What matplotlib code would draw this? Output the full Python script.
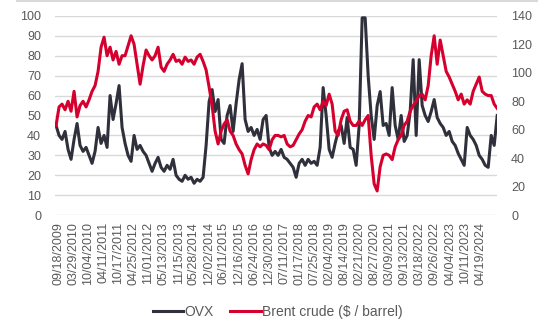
import matplotlib.pyplot as plt
import numpy as np
from matplotlib.lines import Line2D

plt.rcParams['font.family'] = ['Liberation Sans', 'DejaVu Sans']

# x tick labels (one every ~130 trading days)
date_labels = ['09/18/2009', '03/29/2010', '10/04/2010', '04/11/2011', '10/17/2011',
               '04/25/2012', '11/01/2012', '05/13/2013', '11/15/2013', '05/28/2014',
               '12/02/2014', '06/11/2015', '12/16/2015', '06/24/2016', '12/30/2016',
               '07/11/2017', '01/17/2018', '07/25/2018', '02/04/2019', '08/14/2019',
               '02/21/2020', '08/27/2020', '03/09/2021', '09/13/2021', '03/18/2022',
               '09/26/2022', '04/04/2023', '10/11/2023', '04/19/2024']

# OVX index (left axis)
ovx = [45, 40, 38, 42, 33, 28, 38, 46, 35, 32,
       34, 30, 26, 32, 44, 36, 40, 34, 60, 48,
       56, 65, 44, 36, 30, 27, 40, 33, 35, 32,
       30, 26, 22, 26, 29, 24, 22, 25, 23, 28,
       20, 18, 17, 20, 18, 19, 16, 18, 17, 19,
       35, 57, 63, 52, 58, 38, 36, 50, 55, 42,
       56, 68, 76, 48, 42, 44, 40, 43, 38, 48,
       50, 34, 30,
       32, 30, 33, 29, 28, 26, 24, 19, 26, 28,
       25, 28, 26, 27, 25, 34, 64, 50, 33, 29,
       36, 42, 45, 36, 49, 34, 33, 25, 45, 99,
       99, 70, 50, 38, 55, 62, 45, 46, 40, 64,
       45, 38, 50, 37, 40, 52, 78, 40, 78, 55,
       50, 47, 52, 58, 49, 46, 44, 40, 42, 37,
       35, 31, 28, 25, 44, 40, 38, 35, 30, 28,
       25, 24, 40, 35, 50]

# Brent crude, $ / barrel (right axis)
brent = [63, 76, 78, 74, 80, 73, 87, 69, 77, 80,
         76, 81, 87, 91, 101, 118, 125, 112, 118, 109,
         115, 106, 112, 112, 119, 126, 120, 106, 92, 105,
         116, 112, 109, 112, 118, 104, 101, 106, 109, 113,
         108, 109, 106, 111, 108, 109, 106, 111, 113, 108,
         102, 90, 77, 59, 50, 59, 64, 67, 59, 56,
         50, 46, 43, 35, 29, 39, 46, 50, 48, 50,
         49, 46, 53,
         56, 56, 55, 56, 50, 48, 49, 53, 57, 60,
         66, 70, 69, 76, 78, 74, 80, 77, 85, 78,
         59, 56, 67, 73, 74, 66, 63, 63, 66, 63,
         67, 70, 42, 22, 17, 34, 42, 43, 42, 39,
         48, 53, 56, 63, 66, 73, 77, 80, 84, 85,
         81, 91, 112, 126, 106, 123, 112, 101, 97, 92,
         87, 81, 85, 78, 81, 78, 87, 92, 97, 87,
         85, 84, 84, 78, 75]

x_start, x_end = -0.13, 29.13
x = np.linspace(x_start, x_end, len(ovx))

fig = plt.figure(figsize=(5.5, 3.3), dpi=100)
ax = fig.add_axes([0.1, 0.348, 0.804, 0.604])
ax2 = ax.twinx()

grey = '#595959'
ovx_line, = ax.plot(x, ovx, color='#30303c', lw=2.2, solid_joinstyle='round')
brent_line, = ax2.plot(x, brent, color='#d6002f', lw=2.2, solid_joinstyle='round')

ax.set_ylim(0, 100)
ax.set_yticks(np.arange(0, 101, 10))
ax2.set_ylim(0, 140)
ax2.set_yticks(np.arange(0, 141, 20))
ax.set_xlim(-0.2, x_end)
ax.set_xticks(np.arange(len(date_labels)))
ax.set_xticklabels(date_labels, rotation=90)

ax.grid(axis='y', color='#d9d9d9', lw=1)
ax.set_axisbelow(True)
for a in (ax, ax2):
    for s in a.spines.values():
        s.set_visible(False)
    a.tick_params(length=0, colors=grey, labelsize=9)
ax.tick_params(axis='y', pad=10)
ax.tick_params(axis='x', pad=5)
ax2.tick_params(axis='y', pad=10)

fig.legend([ovx_line, brent_line], ['OVX', 'Brent crude ($ / barrel)'],
           loc='center', bbox_to_anchor=(0.505, 0.055), ncol=2, frameon=False,
           fontsize=10, handlelength=2.2, handletextpad=0.1, columnspacing=1.2,
           labelcolor=grey)

fig.add_artist(Line2D([0.03, 0.977], [0.996, 0.996], color='#d9d9d9', lw=1.5,
                      transform=fig.transFigure))

fig.savefig('out.png', dpi=100)
